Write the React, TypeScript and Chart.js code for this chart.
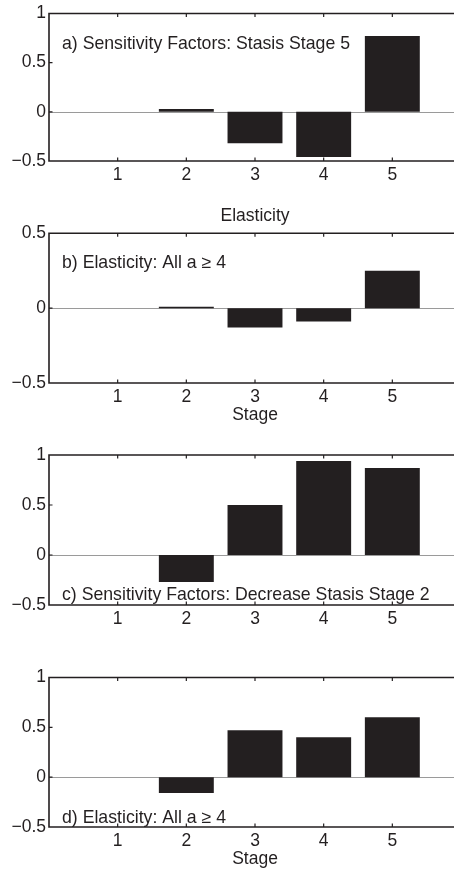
import React, { useEffect, useRef } from 'react';
import { Chart, registerables } from 'chart.js';

Chart.register(...registerables);

// ---- data ----
const stages = [1, 2, 3, 4, 5];
const xTickLabels = ['1', '2', '3', '4', '5'];
const sensitivityStasis5 = [0, 0.03, -0.32, -0.46, 0.77];
const elasticityAllA = [0, 0.01, -0.13, -0.09, 0.25];
const sensitivityDecrease2 = [0, -0.27, 0.5, 0.94, 0.87];
const elasticityAllA2 = [0, -0.16, 0.47, 0.4, 0.6];
const panelNotes = [
  'a) Sensitivity Factors: Stasis Stage 5',
  'b) Elasticity: All a \u2265 4',
  'c) Sensitivity Factors: Decrease Stasis Stage 2',
  'd) Elasticity: All a \u2265 4',
];
const yMins = [-0.5, -0.5, -0.5, -0.5];
const yMaxs = [1, 0.5, 1, 1];
const topTitle = 'Elasticity';
const axisTitle = 'Stage';
const panelValues = [sensitivityStasis5, elasticityAllA, sensitivityDecrease2, elasticityAllA2];

// ---- layout (pixels) ----
const FONT = "'Liberation Sans', Arial, Helvetica, sans-serif";
const INK = '#231f20';
const FS = 17.5;
const NOTE_FS = 17.7;
const layouts = [
  { top: 0, height: 200, padTop: 13, axisH: 39, title: false, xTitle: false, anchor: 'top', off: 31 },
  { top: 200, height: 226, padTop: 0, axisH: 43, title: true, xTitle: true, anchor: 'top', off: 30 },
  { top: 430, height: 210, padTop: 25, axisH: 35, title: false, xTitle: false, anchor: 'bottom', off: 9.5 },
  { top: 640, height: 230, padTop: 37.5, axisH: 43, title: false, xTitle: true, anchor: 'bottom', off: 9 },
];

const framePlugin = {
  id: 'matlabFrame',
  beforeDatasetsDraw(chart: any) {
    const { ctx, chartArea: a, scales } = chart;
    const y0 = Math.round(scales.y.getPixelForValue(0)) + 0.5;
    ctx.save();
    ctx.strokeStyle = '#9a9a9a';
    ctx.lineWidth = 1;
    ctx.beginPath();
    ctx.moveTo(a.left, y0);
    ctx.lineTo(a.right, y0);
    ctx.stroke();
    ctx.restore();
  },
  afterDraw(chart: any, _args: any, opts: any) {
    const { ctx, chartArea: a, scales } = chart;
    const x = scales.x;
    const y = scales.y;
    ctx.save();
    ctx.strokeStyle = INK;
    ctx.lineWidth = 1.6;
    ctx.beginPath();
    ctx.moveTo(a.left, a.top);
    ctx.lineTo(a.right, a.top);
    ctx.lineTo(a.right, a.bottom);
    ctx.lineTo(a.left, a.bottom);
    ctx.closePath();
    ctx.stroke();
    ctx.lineWidth = 1.2;
    ctx.beginPath();
    stages.forEach((s) => {
      const px = x.getPixelForValue(s);
      ctx.moveTo(px, a.top);
      ctx.lineTo(px, a.top + 3.5);
      ctx.moveTo(px, a.bottom);
      ctx.lineTo(px, a.bottom - 3.5);
    });
    y.ticks.forEach((t: any) => {
      if (t.value > y.min && t.value < y.max) {
        const py = y.getPixelForValue(t.value);
        ctx.moveTo(a.left, py);
        ctx.lineTo(a.left + 3.5, py);
        ctx.moveTo(a.right, py);
        ctx.lineTo(a.right - 3.5, py);
      }
    });
    ctx.stroke();
    if (opts && opts.note) {
      ctx.fillStyle = INK;
      ctx.font = `${NOTE_FS}px ${FONT}`;
      ctx.textAlign = 'left';
      ctx.textBaseline = 'middle';
      const ty = opts.anchor === 'top' ? a.top + opts.off : a.bottom - opts.off;
      ctx.fillText(opts.note, a.left + 13, ty);
    }
    ctx.restore();
  },
};

function Panel({ index }: { index: number }) {
  const ref = useRef<HTMLCanvasElement | null>(null);
  const L = layouts[index];
  useEffect(() => {
    if (!ref.current) return;
    const vals = panelValues[index];
    const chart = new Chart(ref.current, {
      type: 'bar',
      data: {
        datasets: [
          {
            data: stages.map((s, i) => ({ x: s, y: vals[i] })),
            backgroundColor: INK,
            borderWidth: 0,
            barPercentage: 0.8,
            categoryPercentage: 1,
          },
        ],
      },
      options: {
        animation: false,
        responsive: false,
        devicePixelRatio: 1,
        layout: { padding: { top: L.padTop, right: 9, left: 0, bottom: 0 } },
        plugins: {
          legend: { display: false },
          tooltip: { enabled: false },
          title: {
            display: L.title,
            text: topTitle,
            fullSize: false,
            color: INK,
            font: { family: FONT, size: FS, weight: 'normal' },
            padding: { top: 5.8, bottom: 6.5 },
          },
          matlabFrame: { note: panelNotes[index], anchor: L.anchor, off: L.off },
        } as any,
        scales: {
          x: {
            type: 'linear',
            min: 0,
            max: 6,
            offset: false,
            grid: { display: false, drawTicks: false, tickLength: 0, offset: false },
            border: { display: false },
            afterFit: (s: any) => {
              s.height = L.axisH;
            },
            ticks: {
              stepSize: 1,
              padding: 3.5,
              color: INK,
              font: { family: FONT, size: FS },
              maxRotation: 0,
              autoSkip: false,
              callback: (v: any) => {
                const i = stages.indexOf(Number(v));
                return i >= 0 ? xTickLabels[i] : '';
              },
            },
            title: {
              display: L.xTitle,
              text: axisTitle,
              color: INK,
              font: { family: FONT, size: FS },
              padding: 0,
            },
          },
          y: {
            type: 'linear',
            min: yMins[index],
            max: yMaxs[index],
            grid: { display: false, drawTicks: false, tickLength: 0 },
            border: { display: false },
            afterFit: (s: any) => {
              s.width = 49;
            },
            ticks: {
              stepSize: 0.5,
              padding: 3,
              color: INK,
              font: { family: FONT, size: FS },
              callback: (v: any) => String(Number(v)).replace('-', '\u2212'),
            },
          },
        },
      },
      plugins: [framePlugin],
    });
    return () => chart.destroy();
  }, [index]);
  return (
    <canvas
      ref={ref}
      width={470}
      height={L.height}
      style={{ position: 'absolute', left: 0, top: L.top, width: 470, height: L.height }}
    />
  );
}

export default function App() {
  return (
    <div
      style={{
        position: 'absolute',
        left: 0,
        top: 0,
        width: 454,
        height: 872,
        overflow: 'hidden',
        background: '#fff',
      }}
    >
      {[0, 1, 2, 3].map((i) => (
        <Panel key={i} index={i} />
      ))}
    </div>
  );
}
